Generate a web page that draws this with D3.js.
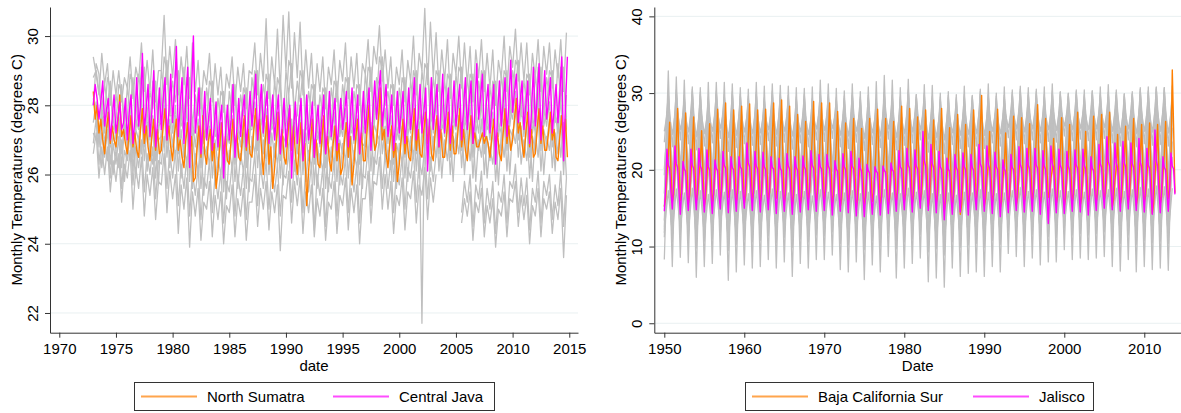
<!DOCTYPE html>
<html><head><meta charset="utf-8">
<script src="https://cdn.jsdelivr.net/npm/d3@7"></script>
<style>
body{margin:0;background:#fff}
svg{display:block}
text{font-family:"Liberation Sans",Arial,Helvetica,sans-serif;fill:#000}
</style>
</head><body>
<svg id="c" width="1181" height="413"></svg>
<script>
// ---------------- Indonesia (left panel) ----------------
const idnStartYear = 1973;
const idnXTicks = [1970, 1975, 1980, 1985, 1990, 1995, 2000, 2005, 2010, 2015];
const idnYTicks = [22, 24, 26, 28, 30];
const idnLegend = ["North Sumatra", "Central Java"];
// bimonthly readings (Jan, Mar, May, Jul, Sep, Nov) 1973-2014
const idnNorthSumatra = [
28.4,27.6,28.0,27.2,27.6,27.0, 26.6,27.3,27.8,26.9,27.4,27.0, 26.8,27.5,28.3,27.1,27.3,26.9, 26.6,27.2,27.7,26.8,27.2,26.7,
26.5,27.3,27.9,26.9,27.4,26.8, 26.4,27.1,27.6,26.7,27.3,26.6, 26.7,27.4,27.9,27.0,27.4,26.8, 26.4,27.2,27.6,26.7,27.0,26.5,
26.2,27.0,27.5,26.6,27.1,25.8, 25.9,26.8,27.4,26.5,27.7,26.6, 26.3,27.0,27.3,26.4,26.9,25.6, 26.1,26.9,27.5,26.6,27.1,26.4,
26.3,27.0,27.6,26.8,27.2,26.5, 26.4,27.1,27.7,26.7,27.3,26.6, 26.5,27.3,27.9,27.0,27.6,26.8, 26.0,26.9,27.7,26.3,26.8,25.6,
26.2,27.0,27.8,26.6,27.3,26.5, 26.3,27.1,27.9,26.7,27.4,26.6, 26.0,26.8,27.5,26.4,26.9,25.1, 26.1,26.9,27.6,26.5,27.0,26.3,
26.2,27.0,27.7,26.6,27.1,26.4, 26.1,26.9,27.4,26.4,26.9,26.0, 26.2,27.0,27.5,26.5,27.1,25.7, 26.3,27.1,27.6,26.6,27.2,26.4,
26.4,27.3,28.0,26.8,27.4,26.7, 26.9,27.6,28.5,27.0,27.3,26.6, 26.2,26.9,27.4,26.5,26.9,25.8, 26.3,27.0,27.6,26.6,27.1,26.5,
26.4,27.2,27.9,26.7,27.3,26.6, 26.5,27.3,27.8,26.9,27.4,26.6, 26.4,27.2,27.7,26.8,27.3,26.5, 26.5,27.1,27.8,26.7,27.4,26.6,
26.6,27.2,27.9,26.8,27.3,26.7, 26.4,27.1,27.7,26.9,27.2,26.8, 26.8,27.0,27.2,26.9,27.1,26.9, 26.5,27.1,27.6,26.8,27.2,26.6,
26.4,27.2,27.9,26.9,27.4,26.7, 27.0,27.6,28.2,27.2,27.5,26.9, 26.5,27.2,27.8,26.8,27.3,26.5, 26.6,27.3,27.9,26.9,27.4,26.7,
26.7,27.2,27.8,27.0,27.3,26.5, 26.4,27.1,27.7,26.9,27.6,26.5
];
const idnCentralJava = [
28.0,28.6,28.2,27.6,28.1,28.7, 27.4,27.9,28.2,27.0,27.6,28.3, 27.2,27.6,28.1,27.3,27.5,28.2, 27.0,27.8,28.3,26.9,27.6,28.8,
27.4,28.0,29.5,27.2,27.9,28.6, 27.1,27.8,29.0,26.8,27.5,28.5, 27.3,28.2,28.8,27.0,27.8,28.9, 27.5,28.4,29.7,27.1,28.0,28.8,
26.9,28.2,29.1,26.2,28.4,30.0, 27.2,27.8,28.5,26.6,27.3,28.4, 27.0,27.6,28.2,26.7,27.4,28.1, 26.8,27.5,28.0,25.9,27.2,28.0,
27.0,27.6,28.6,26.5,27.3,28.2, 27.1,27.8,28.3,26.8,27.5,28.4, 27.4,28.1,28.9,27.0,27.8,28.6, 27.2,27.9,28.4,26.9,27.6,28.3,
27.0,27.7,28.3,26.6,27.4,28.2, 26.8,27.5,28.0,25.9,27.3,28.1, 26.9,27.6,28.2,26.4,27.1,28.3, 27.0,27.5,28.1,26.5,27.4,28.0,
26.9,27.6,28.3,26.6,27.3,28.4, 27.1,27.7,28.2,26.7,27.5,28.2, 27.3,27.8,28.4,26.8,27.6,28.5, 27.0,27.6,28.3,26.6,27.4,28.4,
27.2,27.9,28.5,26.7,27.8,28.7, 27.6,28.3,29.0,27.4,28.0,28.6, 27.1,27.6,28.3,26.7,27.5,28.4, 27.2,27.8,28.4,26.9,27.6,28.5,
27.3,27.9,28.8,27.0,27.7,28.6, 27.2,27.8,28.5,26.1,27.6,28.8, 27.3,28.0,28.6,26.8,27.8,28.9, 27.2,27.9,28.5,26.9,27.7,28.7,
27.4,28.0,28.6,27.0,27.9,28.8, 27.3,28.1,28.7,26.9,27.8,29.2, 27.6,28.2,28.9,27.1,28.0,28.6, 27.2,27.9,28.6,26.3,27.7,28.7,
27.4,28.1,28.8,27.1,28.0,29.3, 27.8,28.4,28.9,27.5,28.1,28.7, 27.3,28.0,28.7,26.9,27.8,29.1, 27.4,28.2,29.2,27.0,28.0,29.0,
27.6,28.1,28.8,27.2,27.9,28.6, 27.5,28.3,29.4,26.4,28.0,29.4
];
// other provinces, quarterly readings (Jan, Apr, Jul, Oct) 1973-2014
const idnOther1 = [
29.4,28.9,28.3,29.5, 28.6,29.2,28.0,29.0, 28.3,29.0,28.1,28.8, 28.5,29.4,28.2,29.1, 28.7,29.8,28.4,29.3, 28.4,29.6,28.1,29.0,
29.0,30.6,28.6,29.7, 28.8,29.9,28.3,29.4, 28.6,29.7,28.2,29.8, 28.4,29.3,27.9,29.0, 28.6,29.5,28.1,29.2, 28.3,29.1,27.8,28.9,
28.5,29.4,28.0,29.1, 28.4,29.2,27.9,29.0, 28.9,29.8,28.3,29.5, 28.7,30.5,28.2,29.4, 28.6,30.2,28.4,30.6, 29.0,30.7,28.5,30.1,
28.8,30.4,28.3,29.6, 28.5,29.5,28.0,29.2, 28.4,29.4,27.9,29.1, 28.6,29.6,28.1,29.3, 28.7,29.8,28.2,29.4, 28.5,29.5,28.0,29.2,
28.9,29.9,28.4,29.7, 29.2,30.3,28.7,29.6, 28.5,29.4,28.0,29.1, 28.6,29.6,28.1,29.3, 28.7,30.0,28.3,29.5, 29.0,30.8,28.6,30.4,
28.8,30.1,28.4,29.6, 28.7,29.9,28.2,29.5, 28.9,30.0,28.5,29.8, 28.6,29.7,28.1,29.6, 28.8,29.9,28.4,29.5, 28.5,29.6,28.0,29.3,
28.8,30.0,28.4,29.7, 29.1,30.2,28.7,29.8, 28.7,29.8,28.3,29.5, 28.8,29.9,28.4,29.7, 28.9,29.8,28.5,29.6, 28.8,29.9,28.4,30.1
];
const idnOther2 = [
28.8,29.0,28.4,27.9, 28.6,28.0,28.7,27.5, 28.3,27.8,28.6,27.4, 28.5,27.9,28.8,27.6, 28.9,28.2,29.1,27.7, 28.4,27.9,28.7,27.5,
29.0,28.4,29.3,27.9, 28.7,28.1,29.0,27.6, 29.1,27.9,28.8,27.4, 28.3,27.7,28.5,27.2, 28.5,27.9,28.7,27.4, 28.2,27.6,28.4,27.1,
28.4,27.8,28.6,27.3, 28.3,27.7,28.5,27.2, 28.8,28.2,29.0,27.7, 28.6,28.0,28.9,27.5, 28.7,27.9,28.8,27.4, 29.0,28.3,29.2,27.8,
28.7,28.1,29.0,27.6, 28.4,27.8,28.6,27.3, 28.3,27.7,28.5,27.2, 28.5,27.9,28.7,27.4, 28.6,28.0,28.8,27.5, 28.4,27.8,28.6,27.3,
28.9,28.2,29.1,27.6, 28.8,28.6,29.4,28.0, 28.4,27.8,28.6,27.3, 28.5,27.9,28.8,27.4, 28.7,28.1,29.0,27.6, 29.0,28.3,29.2,27.8,
28.8,28.1,29.0,27.6, 28.7,28.0,28.9,27.5, 28.9,28.2,29.1,27.7, 28.8,28.0,28.9,27.5, 28.7,28.1,29.0,27.6, 28.5,27.9,28.7,27.4,
28.9,28.1,29.0,27.7, 29.0,28.5,29.3,28.0, 28.7,28.0,28.9,27.5, 28.9,28.1,29.1,27.7, 28.8,28.3,29.0,27.8, 29.2,28.1,29.1,27.6
];
const idnOther3 = [
28.2,27.6,27.0,28.0, 27.2,28.0,26.8,27.7, 27.0,27.8,26.6,27.5, 27.1,27.9,26.5,27.6, 27.3,28.2,26.8,27.9, 27.0,27.7,26.4,27.4,
27.5,28.4,26.9,28.1, 27.2,28.0,26.6,27.8, 27.0,27.9,26.4,27.6, 26.8,27.6,26.2,27.3, 27.0,27.8,26.4,27.5, 26.7,27.5,26.0,27.2,
26.9,27.7,26.3,27.4, 26.8,27.6,26.2,27.3, 27.3,28.1,26.7,27.8, 27.1,27.9,26.5,27.7, 27.0,27.8,26.4,27.6, 27.4,28.3,26.8,28.0,
27.1,28.0,26.5,27.7, 26.9,27.7,26.3,27.4, 26.8,27.6,26.2,27.3, 27.0,27.8,26.4,27.5, 27.1,27.9,26.5,27.6, 26.9,27.7,26.3,27.4,
27.3,28.2,26.7,28.0, 27.7,28.5,27.1,27.9, 26.9,27.7,26.3,27.4, 27.0,27.9,26.5,27.6, 27.2,28.1,26.6,27.8, 27.4,28.3,26.8,28.0,
27.2,28.1,26.6,27.8, 27.1,28.0,26.5,27.7, 27.3,28.2,26.7,27.9, 27.1,28.0,26.5,27.8, 27.2,28.1,26.6,27.7, 27.0,27.8,26.4,27.5,
27.2,28.1,26.7,27.9, 27.6,28.4,27.0,28.0, 27.1,28.0,26.5,27.7, 27.2,28.2,26.7,27.9, 27.4,28.1,26.8,27.8, 27.2,28.2,26.6,28.3
];
const idnOther4 = [
27.2,27.0,27.4,26.2, 26.9,26.4,27.1,26.0, 26.7,26.2,27.0,25.8, 26.8,26.4,27.2,25.9, 27.1,26.6,27.4,26.1, 26.8,26.3,27.0,25.7,
27.3,26.8,27.6,26.2, 27.0,26.5,27.3,25.9, 26.9,26.3,27.2,25.6, 26.6,26.1,26.9,25.4, 26.8,26.3,27.1,25.7, 26.5,26.0,26.8,25.3,
26.7,26.2,27.0,25.6, 26.6,26.1,26.9,25.5, 27.1,26.6,27.4,26.0, 27.0,26.4,27.2,25.8, 26.9,26.3,27.1,25.7, 27.3,26.7,27.6,26.1,
27.0,26.4,27.3,25.8, 26.7,26.2,27.0,25.6, 26.6,26.1,26.9,25.5, 26.8,26.3,27.1,25.7, 26.9,26.4,27.2,25.8, 26.7,26.2,27.0,25.6,
27.3,26.6,27.5,26.0, 27.2,27.0,27.8,26.4, 26.7,26.2,27.0,25.6, 26.9,26.3,27.2,25.8, 27.1,26.5,27.4,25.9, 27.3,26.7,27.6,26.1,
27.1,26.5,27.4,25.9, 27.0,26.4,27.3,25.8, 27.2,26.6,27.5,26.0, 27.1,26.4,27.3,25.8, 27.0,26.5,27.4,25.9, 26.8,26.3,27.1,25.7,
27.2,26.5,27.4,26.0, 27.3,26.9,27.7,26.3, 27.0,26.4,27.3,25.8, 27.2,26.5,27.5,26.0, 27.1,26.7,27.4,26.1, 27.6,26.5,27.5,25.9
];
const idnOther5 = [
26.6,27.2,25.9,26.8, 26.0,26.8,25.5,26.4, 25.8,26.6,25.2,26.3, 25.9,26.7,25.0,26.2, 25.6,26.5,24.8,26.0, 25.4,26.2,24.7,25.8,
25.7,26.6,24.9,26.1, 25.3,26.0,24.3,25.7, 25.0,25.9,23.9,25.5, 24.8,25.6,24.1,25.2, 25.0,25.8,24.2,25.4, 24.7,25.5,24.0,25.1,
24.9,25.7,24.2,25.3, 24.8,25.6,24.1,25.2, 25.2,26.0,24.5,25.6, 25.0,25.8,24.4,25.5, 24.9,25.7,23.8,25.4, 25.3,26.1,24.6,25.8,
25.1,25.9,24.3,25.5, 24.9,25.7,24.2,25.3, 24.8,25.6,24.1,25.2, 25.0,25.8,24.3,25.4, 25.1,25.9,24.4,25.6, 24.9,25.7,24.0,25.3,
25.3,26.1,24.6,25.8, 25.7,26.5,25.0,26.0, 25.0,25.8,24.3,25.4, 25.1,25.9,24.4,25.5, 25.3,26.1,24.6,25.7, 25.4,26.2,24.7,25.9,
25.2,26.0,null,null, null,null,null,null, null,null,24.6,25.3, 24.8,25.5,24.1,25.2, 24.9,25.6,24.2,25.1, 24.6,25.3,23.9,25.0,
24.8,25.5,24.2,25.3, 25.2,25.8,24.5,25.4, 24.7,25.4,24.0,25.1, 24.8,25.6,24.2,25.3, 25.0,25.5,24.3,25.2, 24.7,25.6,23.6,25.4
];
const idnOther6 = [
26.9,27.6,26.3,27.2, 26.5,27.3,25.9,26.9, 26.3,27.1,25.6,26.7, 26.4,27.2,25.7,26.8, 26.2,27.0,25.5,26.6, 26.0,26.8,25.3,26.4,
26.3,27.1,25.6,26.7, 25.9,26.7,25.1,26.3, 25.6,26.5,24.8,26.1, 25.4,26.2,24.7,25.9, 25.6,26.4,24.9,26.0, 25.3,26.1,24.6,25.8,
25.5,26.3,24.8,26.0, 25.4,26.2,24.7,25.9, 25.8,26.6,25.1,26.3, 25.6,26.4,25.0,26.1, 25.5,26.3,24.8,26.0, 25.9,26.7,25.2,26.4,
25.7,26.5,24.9,26.2, 25.5,26.3,24.4,26.0, 25.4,26.2,24.5,25.9, 25.6,26.4,24.8,26.1, 25.7,26.5,24.9,26.2, 25.5,26.3,24.6,26.0,
25.9,26.8,25.1,26.5, 26.3,27.1,25.6,26.6, 25.6,26.4,24.9,26.1, 25.7,26.5,25.0,26.2, 25.9,26.7,25.2,26.4, 26.0,26.8,25.3,26.5,
25.8,26.6,null,null, null,null,null,null, null,null,24.9,25.8, 25.2,26.0,24.5,25.7, 25.3,26.1,24.6,25.6, 25.0,25.8,24.3,25.5,
25.2,26.0,24.6,25.8, 25.6,26.3,24.9,25.9, 25.1,25.9,24.4,25.6, 25.2,26.1,24.6,25.8, 25.4,26.0,24.7,25.7, 25.1,26.1,24.5,25.9
];
const idnOther7 = [
27.5,28.1,26.8,27.7, 26.9,27.6,26.3,27.2, 26.7,27.5,26.2,27.4, 26.8,27.7,26.1,27.3, 27.0,27.9,26.4,27.5, 26.6,27.4,25.9,27.0,
27.1,28.0,26.5,27.6, 26.8,27.7,26.1,27.3, 26.5,27.5,25.8,27.1, 26.3,27.2,25.6,26.8, 26.6,27.4,25.9,27.0, 26.2,27.1,25.5,26.7,
26.4,27.3,25.8,26.9, 26.3,27.2,25.6,26.8, 26.8,27.7,26.2,27.4, 26.6,27.5,26.0,27.2, 26.5,27.4,25.9,27.1, 26.9,27.9,26.3,27.5,
26.6,27.6,26.0,27.2, 26.4,27.3,25.7,26.9, 26.3,27.2,25.6,26.8, 26.5,27.4,25.8,27.0, 26.6,27.5,25.9,27.1, 26.4,27.3,25.7,26.9,
26.8,27.8,26.1,27.5, 27.2,28.0,26.6,27.4, 26.4,27.3,25.8,26.9, 26.5,27.4,25.9,27.1, 26.7,27.6,26.1,27.3, 21.7,27.8,26.3,27.5,
26.7,27.6,26.1,27.2, 26.6,27.5,26.0,27.1, 26.8,27.7,26.2,27.4, 26.6,27.5,25.9,27.2, 26.7,27.6,26.0,27.1, 26.4,27.3,25.8,26.9,
26.7,27.6,26.1,27.3, 27.1,27.9,26.5,27.4, 26.6,27.5,25.9,27.1, 26.7,27.7,26.1,27.3, 26.9,27.6,26.2,27.2, 26.6,27.7,26.0,27.7
];
const idnOther8 = [
28.0,29.2,28.9,27.6, 27.7,28.8,28.5,27.3, 27.5,28.6,28.4,27.2, 27.6,28.9,28.6,27.3, 27.9,29.1,28.8,27.5, 27.5,28.7,28.4,27.2,
28.0,29.4,29.0,27.7, 27.7,29.0,28.7,27.4, 27.6,28.8,28.6,27.1, 27.3,28.5,28.3,26.9, 27.5,28.7,28.5,27.1, 27.2,28.4,28.2,26.8,
27.4,28.6,28.4,27.0, 27.3,28.5,28.3,26.9, 27.8,29.0,28.8,27.4, 27.6,28.9,28.6,27.3, 27.5,28.8,28.5,27.2, 27.9,29.3,29.0,27.6,
27.7,29.0,28.7,27.3, 27.4,28.6,28.4,27.0, 27.3,28.5,28.3,26.9, 27.5,28.7,28.5,27.1, 27.6,28.8,28.6,27.2, 27.4,28.6,28.4,27.0,
27.8,29.1,28.9,27.3, 28.2,29.4,29.0,27.7, 27.4,28.6,28.4,27.0, 27.5,28.8,28.5,27.1, 27.7,29.0,28.7,27.3, 27.9,29.2,29.0,27.5,
27.7,29.0,28.8,27.3, 27.6,28.9,28.7,27.2, 27.8,29.1,28.9,27.4, 27.6,28.9,28.7,27.2, 27.7,29.0,28.8,27.3, 27.5,28.7,28.5,27.1,
27.7,29.0,28.8,27.4, 28.1,29.3,29.1,27.7, 27.6,28.9,28.7,27.2, 27.7,29.1,28.9,27.4, 27.9,29.0,28.8,27.5, 27.7,29.1,28.9,27.3
];

// ---------------- Mexico (right panel) ----------------
const mexStartYear = 1950;
const mexXTicks = [1950, 1960, 1970, 1980, 1990, 2000, 2010];
const mexYTicks = [0, 10, 20, 30, 40];
const mexLegend = ["Baja California Sur", "Jalisco"];
// bimonthly readings (Jan, Mar, May, Jul, Sep, Nov) 1950-2013
const mexBajaCaliforniaSur = [
15.2,16.3,19.4,21.9,26.2,20.0, 15.8,16.8,19.9,23.7,28.0,20.6, 16.0,16.9,19.7,23.1,27.4,20.4, 15.6,16.6,19.5,22.6,26.9,20.1,
15.9,16.8,19.2,20.9,25.1,19.7, 15.3,16.3,19.1,21.7,26.0,19.6, 15.7,16.8,19.8,23.6,27.9,20.4, 16.2,17.2,20.2,24.4,28.7,20.8,
16.4,17.3,20.0,23.5,27.8,20.6, 15.9,17.0,19.9,24.0,28.3,20.5, 15.6,16.7,20.0,24.3,28.6,20.7, 16.1,17.0,19.8,23.5,27.8,20.3,
15.8,16.8,19.7,23.6,27.9,20.2, 16.0,17.1,20.3,24.4,28.7,20.9, 16.3,17.3,20.4,24.8,29.1,21.1, 15.7,16.8,20.1,24.0,28.3,20.6,
15.4,16.5,19.6,22.9,27.2,20.0, 15.5,16.5,19.4,22.0,26.3,19.8, 16.1,17.1,20.3,24.6,28.9,20.8, 15.9,17.0,20.2,24.4,28.7,20.7,
16.2,17.2,20.2,24.4,28.7,20.6, 15.6,16.6,19.8,23.3,27.6,20.2, 15.2,16.2,19.1,21.8,26.1,19.6, 15.8,16.8,19.4,22.4,26.7,19.9,
15.1,16.1,18.9,21.1,25.4,19.4, 15.4,16.4,19.3,22.4,26.7,19.8, 15.9,16.9,19.9,23.6,27.9,20.4, 15.5,16.5,19.5,22.4,26.7,19.9,
15.3,16.3,19.2,22.0,26.3,19.7, 16.0,17.0,20.1,24.0,28.3,20.6, 15.8,16.8,20.0,23.7,28.0,20.5, 15.6,16.6,19.6,22.6,26.9,20.1,
15.9,16.9,19.9,23.5,27.8,20.4, 15.2,16.3,19.4,22.2,26.5,19.9, 15.7,16.7,20.0,23.7,28.0,20.5, 14.6,15.8,18.9,21.2,25.5,19.4,
15.5,16.5,19.6,22.9,27.2,20.1, 14.2,15.5,18.8,21.6,25.9,19.5, 15.6,16.7,19.9,23.5,27.8,20.4, 16.2,17.3,20.6,25.4,29.7,21.2,
15.3,16.2,19.0,20.7,25.0,19.3, 15.7,16.7,19.8,23.6,27.9,20.3, 15.0,15.9,18.7,20.5,24.8,19.2, 15.6,16.6,19.5,22.7,27.0,20.0,
15.4,16.4,19.4,22.5,26.8,19.9, 15.8,16.7,19.3,21.7,26.0,19.8, 16.0,17.1,20.3,24.2,28.5,20.8, 15.5,16.5,19.5,22.4,26.7,20.0,
16.4,17.1,18.9,20.0,24.1,19.4, 15.6,16.5,19.4,22.5,26.8,19.9, 15.3,16.3,19.1,21.6,25.9,19.6, 15.9,16.8,19.8,23.2,27.5,20.2,
15.4,16.3,18.9,20.7,25.0,19.4, 15.8,16.7,19.6,22.7,27.0,20.0, 15.9,16.8,19.7,22.9,27.2,20.1, 16.1,17.0,19.9,23.2,27.5,20.3,
15.2,16.1,18.7,20.3,24.6,19.1, 15.5,16.4,19.1,21.4,25.7,19.6, 15.7,16.7,19.5,22.4,26.7,19.9, 15.4,16.4,19.2,21.6,25.9,19.7,
15.8,16.6,19.3,21.8,26.1,19.8, 14.3,15.6,19.0,21.6,25.9,19.5, 15.6,16.5,19.4,22.0,26.3,19.9, 16.3,17.3,21.0,33.0,25.5,17.0
];
const mexJalisco = [
14.6,17.6,22.7,20.6,20.2,17.1, 14.9,18.0,23.1,20.8,20.3,17.2, 14.2,17.1,21.1,20.1,19.8,16.8, 14.7,17.7,22.7,20.6,20.2,17.0,
14.8,17.8,22.8,20.5,20.1,17.1, 14.5,17.5,22.6,20.4,20.0,16.9, 14.3,17.2,21.3,20.2,19.9,16.8, 14.9,17.9,22.4,20.6,20.2,17.2,
14.4,17.3,21.7,20.3,20.0,16.9, 14.6,17.5,21.7,20.4,20.1,17.0, 15.0,18.2,23.5,20.9,20.4,17.3, 14.7,17.6,22.4,20.5,20.1,17.0,
14.5,17.5,22.3,20.4,20.0,16.9, 14.8,17.6,21.7,20.3,20.1,17.0, 14.3,17.2,21.5,20.2,19.9,16.8, 14.6,17.6,22.1,20.5,20.1,17.0,
14.2,17.2,21.7,20.3,19.9,16.7, 14.5,17.4,21.8,20.4,20.0,16.9, 14.8,17.8,22.5,20.6,20.2,17.1, 14.6,17.5,22.0,20.4,20.1,17.0,
14.7,17.6,22.0,20.5,20.1,17.0, 14.1,17.0,21.2,20.1,19.8,16.7, 14.6,17.5,22.1,20.4,20.0,17.0, 14.4,17.4,22.4,20.5,20.1,16.9,
14.0,17.0,21.5,20.2,19.8,16.6, 13.9,16.8,20.7,19.9,19.6,16.5, 14.2,16.9,20.4,19.8,19.6,16.6, 14.1,16.8,20.5,19.9,19.7,16.6,
14.3,17.0,20.9,20.0,19.8,16.7, 14.6,17.6,22.5,20.4,20.1,17.0, 14.8,17.8,22.8,20.6,20.2,17.1, 14.5,17.6,22.6,20.5,20.1,17.0,
15.0,18.4,25.0,21.2,20.5,17.3, 14.7,17.9,23.3,20.8,20.3,17.1, 14.4,17.5,22.4,20.4,20.0,16.9, 13.5,16.8,21.5,20.1,19.8,16.5,
14.2,17.3,22.0,20.3,19.9,16.8, 14.5,17.5,22.2,20.4,20.0,16.9, 14.1,17.2,22.0,20.3,19.9,16.7, 14.8,18.0,23.3,20.8,20.3,17.2,
14.6,17.8,23.1,20.7,20.2,17.1, 14.3,17.4,22.3,20.4,20.0,16.9, 13.9,17.0,21.3,20.1,19.8,16.6, 14.4,17.4,22.0,20.3,20.0,16.9,
14.7,17.8,23.0,20.7,20.2,17.1, 14.5,17.6,22.8,20.6,20.1,17.0, 14.6,17.7,22.8,20.6,20.2,17.0, 14.2,17.4,22.5,20.5,20.0,16.9,
13.0,17.0,23.1,20.8,20.3,17.0, 14.4,17.6,22.7,20.6,20.1,17.0, 14.3,17.4,22.4,20.5,20.0,16.9, 14.6,17.7,22.6,20.6,20.2,17.1,
14.5,17.6,22.7,20.6,20.1,17.0, 14.1,17.1,21.7,20.2,19.9,16.8, 14.7,17.9,23.3,20.8,20.3,17.2, 15.0,18.3,24.3,21.1,20.5,17.4,
14.8,18.0,23.5,20.9,20.3,17.2, 14.6,17.9,23.7,20.9,20.4,17.2, 14.9,18.0,23.5,20.8,20.3,17.3, 14.7,18.1,24.1,21.0,20.4,17.3,
14.5,17.7,22.8,20.6,20.2,17.1, 14.2,17.9,25.2,21.2,20.5,17.3, 14.4,17.3,21.7,20.3,20.0,16.9, 14.6,17.5,22.2,20.5,20.1,16.8
];
// other states, half-yearly readings (Jan, Jul) 1950-2013
const mexSonora = [
15.2,32.9,14.6,32.1,15.8,31.7,14.9,30.8,15.5,30.7,14.3,31.4,15.7,31.4,16.1,31.4,15.0,31.2,14.8,30.7,
15.4,30.5,15.9,31.4,14.7,30.9,15.3,31.2,15.6,31.0,14.5,30.9,15.1,30.7,15.8,30.6,14.9,30.8,15.2,31.7,
15.6,31.2,14.4,30.6,15.9,30.3,15.3,31.2,14.8,30.2,15.7,30.8,15.0,31.5,14.6,32.3,15.5,31.7,15.2,30.7,
15.8,31.8,15.1,29.8,14.7,31.1,15.6,31.0,15.0,30.0,14.2,30.2,15.4,29.8,15.9,30.9,15.3,29.6,14.8,30.5,
15.7,31.2,15.5,30.0,14.9,30.8,16.0,30.4,15.2,30.9,15.8,30.7,15.4,30.5,16.1,30.8,15.6,31.2,15.3,30.2,
16.2,30.0,15.7,30.4,15.9,30.4,15.5,30.3,16.0,30.8,15.8,31.1,16.3,29.6,15.4,29.9,15.9,29.9,16.1,30.7,
15.6,30.8,15.2,30.7,16.0,30.7,15.8,31.0
];
const mexChihuahua = [
8.3,25.1,7.4,25.6,8.6,24.8,7.9,25.9,6.0,25.3,7.4,24.6,7.8,25.8,8.9,24.9,5.6,25.4,6.7,25.0,
7.6,24.7,7.2,25.2,7.4,24.5,8.3,25.6,7.2,25.1,8.0,24.8,6.1,24.6,7.8,25.0,7.2,24.4,8.3,25.3,
8.3,24.9,8.9,24.5,7.0,24.7,6.7,25.1,8.0,24.6,5.7,24.9,7.6,24.3,6.7,25.2,8.7,24.8,5.9,24.6,
7.2,25.5,7.8,24.9,8.5,25.1,5.4,24.7,5.9,24.6,4.7,24.8,7.2,24.5,6.1,24.9,6.5,24.8,6.7,25.3,
6.1,24.9,7.4,24.6,6.7,24.7,9.1,25.2,8.7,25.6,7.4,25.1,8.5,25.3,7.6,24.9,8.0,25.4,8.0,25.2,
9.6,25.0,8.3,25.3,8.5,24.9,8.3,25.4,8.5,25.1,8.7,25.2,7.4,25.5,6.8,25.0,8.3,25.3,6.7,25.6,
7.4,25.4,7.0,25.9,7.2,25.8,6.9,25.5
];
const mexDurango = [
11.2,23.4,10.6,23.8,11.5,23.1,10.9,23.9,9.8,23.5,10.7,22.9,11.0,23.7,11.8,23.2,9.5,23.6,10.3,23.3,
10.9,23.0,10.6,23.4,10.8,22.8,11.4,23.7,10.5,23.2,11.2,23.0,9.9,22.9,11.0,23.3,10.6,22.7,11.5,23.5,
11.4,23.1,11.9,22.8,10.4,23.0,10.2,23.4,11.1,22.9,9.6,23.1,10.8,22.6,10.1,23.4,11.7,23.0,9.7,22.9,
10.6,23.6,11.0,23.1,11.6,23.3,9.3,22.9,9.7,22.8,8.9,23.0,10.6,22.7,9.9,23.1,10.2,23.0,10.4,23.5,
9.9,23.1,10.8,22.9,10.3,23.0,12.0,23.4,11.7,23.8,10.8,23.3,11.6,23.5,10.9,23.1,11.3,23.6,11.2,23.4,
12.4,23.2,11.5,23.5,11.7,23.1,11.5,23.6,11.7,23.3,11.9,23.4,10.8,23.7,10.4,23.2,11.5,23.5,10.3,23.8,
10.8,23.6,10.5,24.1,10.7,24.0,10.4,23.7
];
const mexCoahuila = [
12.5,28.6,11.4,28.9,12.8,28.2,12.0,29.1,10.6,28.7,11.5,28.0,12.1,29.0,13.2,28.3,10.3,28.8,11.2,28.4,
12.0,28.1,11.6,28.6,11.9,27.9,12.6,28.8,11.5,28.5,12.3,28.2,10.8,28.0,12.2,28.4,11.4,27.8,12.7,28.7,
12.5,28.3,13.1,27.9,11.2,28.1,11.0,28.5,12.3,28.0,10.4,28.2,11.9,27.7,11.1,28.6,12.9,28.2,10.5,28.0,
11.6,28.9,12.1,28.3,12.8,28.5,10.0,28.1,10.4,28.0,9.6,28.2,11.7,27.9,10.8,28.3,11.1,28.2,11.3,28.7,
10.7,28.3,11.9,28.1,11.2,28.2,13.2,28.6,12.8,29.0,11.8,28.5,12.7,28.7,12.0,28.3,12.4,28.8,12.3,28.6,
13.6,28.4,12.5,28.7,12.8,28.3,12.5,28.8,12.7,28.5,12.9,28.6,11.8,28.9,11.2,28.4,12.5,28.7,11.1,29.0,
11.8,28.8,11.4,29.3,11.7,29.2,11.3,28.9
];
const mexTamaulipas = [
16.9,29.4,16.0,29.7,17.2,29.0,16.5,29.8,15.3,29.5,16.1,28.8,16.6,29.6,17.5,29.1,15.0,29.5,15.8,29.2,
16.5,28.9,16.2,29.4,16.4,28.7,17.0,29.6,16.1,29.3,16.8,29.0,15.5,28.8,16.7,29.2,16.0,28.6,17.1,29.5,
16.9,29.1,17.4,28.7,15.8,28.9,15.6,29.3,16.7,28.8,15.1,29.0,16.4,28.5,15.8,29.4,17.3,29.0,15.2,28.8,
16.2,29.7,16.6,29.1,17.2,29.3,14.8,28.9,15.2,28.8,14.5,29.0,16.3,28.7,15.5,29.1,15.8,29.0,16.0,29.5,
15.4,29.1,16.5,28.9,15.9,29.0,17.5,29.4,17.1,29.8,16.4,29.3,17.2,29.5,16.6,29.1,16.9,29.6,16.8,29.4,
17.9,29.2,17.0,29.5,17.3,29.1,17.0,29.6,17.2,29.3,17.4,29.4,16.5,29.7,16.0,29.2,17.1,29.5,15.9,29.8,
16.5,29.6,16.2,30.1,16.4,30.0,16.1,29.7
];
const mexYucatan = [
23.6,29.8,23.0,30.1,23.9,29.4,23.4,30.2,22.6,29.8,23.1,29.2,23.5,30.0,24.1,29.5,22.4,29.9,22.9,29.6,
23.4,29.3,23.2,29.8,23.3,29.1,23.8,30.0,23.1,29.7,23.6,29.4,22.7,29.2,23.5,29.6,23.0,29.0,23.9,29.9,
23.7,29.5,24.1,29.1,23.0,29.3,22.8,29.7,23.6,29.2,22.5,29.4,23.3,28.9,22.9,29.8,24.0,29.4,22.6,29.2,
23.2,30.1,23.5,29.5,23.9,29.7,22.3,29.3,22.6,29.2,22.1,29.4,23.3,29.1,22.8,29.5,23.0,29.4,23.1,29.9,
22.8,29.5,23.5,29.3,23.1,29.4,24.2,29.8,23.9,30.2,23.4,29.7,23.9,29.9,23.5,29.5,23.7,30.0,23.6,29.8,
24.4,29.6,23.8,29.9,24.0,29.5,23.8,30.0,23.9,29.7,24.1,29.8,23.5,30.1,23.1,29.6,23.9,29.9,23.0,30.2,
23.4,30.0,23.2,30.5,23.3,30.4,23.1,30.1
];
const mexGuerrero = [
25.0,28.2,24.6,28.4,25.2,27.9,24.9,28.5,24.3,28.2,24.7,27.7,25.0,28.4,25.4,28.0,24.2,28.3,24.5,28.1,
24.9,27.9,24.7,28.2,24.8,27.6,25.2,28.4,24.6,28.1,25.0,27.9,24.4,27.8,24.9,28.0,24.6,27.6,25.3,28.3,
25.1,28.0,25.4,27.7,24.5,27.9,24.4,28.2,25.0,27.8,24.1,28.0,24.8,27.6,24.4,28.3,25.3,27.9,24.2,27.8,
24.7,28.5,24.9,28.1,25.2,28.2,24.0,27.9,24.2,27.8,23.9,28.0,24.8,27.7,24.5,28.1,24.6,28.0,24.7,28.4,
24.5,28.1,25.0,27.9,24.7,28.0,25.5,28.3,25.3,28.6,24.9,28.2,25.3,28.4,25.0,28.1,25.2,28.5,25.1,28.3,
25.7,28.2,25.2,28.4,25.4,28.1,25.2,28.5,25.3,28.3,25.5,28.4,25.0,28.6,24.8,28.2,25.3,28.4,24.7,28.7,
25.0,28.5,24.9,28.9,25.0,28.8,24.8,28.6
];
const mexEstadoMexico = [
12.2,17.3,11.6,17.5,12.5,17.0,11.9,17.6,11.0,17.3,11.5,16.8,12.0,17.4,12.8,17.1,10.8,17.4,11.3,17.2,
11.9,16.9,11.7,17.3,11.8,16.7,12.4,17.5,11.5,17.2,12.2,17.0,11.1,16.8,12.0,17.2,11.4,16.6,12.5,17.4,
12.3,17.1,12.7,16.8,11.4,17.0,11.2,17.3,12.0,16.9,10.9,17.1,11.8,16.6,11.3,17.4,12.6,17.0,10.8,16.9,
11.6,17.6,12.0,17.1,12.5,17.3,10.6,16.9,10.9,16.8,10.4,17.0,11.7,16.7,11.1,17.1,11.4,17.0,11.5,17.4,
11.0,17.1,11.9,16.9,11.4,17.0,12.7,17.3,12.4,17.7,11.8,17.2,12.4,17.4,12.0,17.1,12.2,17.5,12.2,17.3,
13.0,17.2,12.4,17.4,12.6,17.1,12.4,17.5,12.5,17.3,12.7,17.4,12.0,17.6,11.6,17.2,12.4,17.4,11.5,17.7,
11.9,17.5,11.6,17.9,11.8,17.8,11.5,17.6
];
const mexSinaloa = [
19.3,30.0,18.6,30.4,19.6,29.7,19.0,30.5,18.1,30.1,18.8,29.5,19.2,30.3,19.9,29.8,17.9,30.2,18.5,29.9,
19.1,29.6,18.8,30.1,19.0,29.4,19.5,30.3,18.7,30.0,19.3,29.7,18.2,29.5,19.2,29.9,18.6,29.3,19.6,30.2,
19.4,29.8,19.8,29.4,18.5,29.6,18.3,30.0,19.2,29.5,17.9,29.7,18.9,29.2,18.4,30.1,19.7,29.7,18.0,29.5,
18.7,30.4,19.1,29.8,19.6,30.0,17.6,29.6,18.0,29.5,17.4,29.7,18.8,29.4,18.2,29.8,18.5,29.7,18.6,30.2,
18.1,29.8,19.0,29.6,18.5,29.7,19.9,30.1,19.6,30.5,18.9,30.0,19.6,30.2,19.1,29.8,19.4,30.3,19.3,30.1,
20.2,29.9,19.5,30.2,19.7,29.8,19.5,30.3,19.6,30.0,19.8,30.1,19.0,30.4,18.6,29.9,19.5,30.2,18.5,30.5,
19.0,30.3,18.7,30.8,18.9,30.7,18.6,30.4
];
const mexZacatecas = [
11.8,21.5,11.1,21.8,12.1,21.2,11.5,21.9,10.4,21.5,11.2,20.9,11.6,21.7,12.4,21.2,10.1,21.6,10.9,21.3,
11.5,21.0,11.2,21.4,11.4,20.8,12.0,21.7,11.1,21.2,11.8,21.0,10.5,20.9,11.6,21.3,11.0,20.7,12.1,21.5,
12.0,21.1,12.5,20.8,11.0,21.0,10.8,21.4,11.7,20.9,10.2,21.1,11.4,20.6,10.7,21.4,12.3,21.0,10.3,20.9,
11.2,21.6,11.6,21.1,12.2,21.3,9.9,20.9,10.3,20.8,9.5,21.0,11.2,20.7,10.5,21.1,10.8,21.0,11.0,21.5,
10.5,21.1,11.4,20.9,10.9,21.0,12.6,21.4,12.3,21.8,11.4,21.3,12.2,21.5,11.5,21.1,11.9,21.6,11.8,21.4,
13.0,21.2,12.1,21.5,12.3,21.1,12.1,21.6,12.3,21.3,12.5,21.4,11.4,21.7,11.0,21.2,12.1,21.5,10.9,21.8,
11.4,21.6,11.1,22.1,11.3,22.0,11.0,21.7
];
const mexBajaCalifornia = [
13.4,26.7,12.7,27.1,13.7,26.4,13.1,27.2,12.1,26.8,12.8,26.2,13.3,27.0,14.0,26.5,11.8,26.9,12.5,26.6,
13.1,26.3,12.8,26.8,13.0,26.1,13.6,27.0,12.7,26.7,13.4,26.4,12.2,26.2,13.3,26.6,12.6,26.0,13.7,26.9,
13.5,26.5,13.9,26.1,12.6,26.3,12.4,26.7,13.3,26.2,11.9,26.4,13.0,25.9,12.5,26.8,13.8,26.4,12.0,26.2,
12.8,27.1,13.2,26.5,13.7,26.7,11.6,26.3,12.0,26.2,11.3,26.4,12.9,26.1,12.3,26.5,12.6,26.4,12.7,26.9,
12.2,26.5,13.1,26.3,12.6,26.4,14.0,26.8,13.7,27.2,13.0,26.7,13.7,26.9,13.2,26.5,13.5,27.0,13.4,26.8,
14.3,26.6,13.6,26.9,13.8,26.5,13.6,27.0,13.7,26.7,13.9,26.8,13.1,27.1,12.7,26.6,13.6,26.9,12.6,27.2,
13.1,27.0,12.8,27.5,13.0,27.4,12.7,27.1
];
const mexVeracruz = [
20.1,27.0,19.4,27.3,20.4,26.7,19.8,27.4,18.9,27.1,19.6,26.5,20.0,27.2,20.7,26.8,18.7,27.2,19.3,26.9,
19.9,26.6,19.6,27.1,19.8,26.4,20.3,27.3,19.5,27.0,20.1,26.7,19.0,26.5,20.0,26.9,19.4,26.3,20.4,27.2,
20.2,26.8,20.6,26.4,19.3,26.6,19.1,27.0,20.0,26.5,18.7,26.7,19.7,26.2,19.2,27.1,20.5,26.7,18.8,26.5,
19.5,27.4,19.9,26.8,20.4,27.0,18.4,26.6,18.8,26.5,18.2,26.7,19.6,26.4,19.0,26.8,19.3,26.7,19.4,27.2,
18.9,26.8,19.8,26.6,19.3,26.7,20.7,27.1,20.4,27.5,19.7,27.0,20.4,27.2,19.9,26.8,20.2,27.3,20.1,27.1,
21.0,26.9,20.3,27.2,20.5,26.8,20.3,27.3,20.4,27.0,20.6,27.1,19.8,27.4,19.4,26.9,20.3,27.2,19.3,27.5,
19.8,27.3,19.5,27.8,19.7,27.7,19.4,27.4
];

// ---------------- drawing ----------------
const COL_ORANGE = "#ff7f00", COL_PINK = "#ff00ff", COL_GREY = "#bfbfbf";
const svg = d3.select("#c");

function toPoints(values, startYear, perYear) {
  return values.map((v, i) => [startYear + i / perYear, v]);
}

function drawPanel(cfg) {
  const x = d3.scaleLinear().domain(cfg.xDomain).range([cfg.left, cfg.right]);
  const y = d3.scaleLinear().domain(cfg.yDomain).range([cfg.bottom, cfg.top]);
  const g = svg.append("g");

  g.append("g").selectAll("line").data(cfg.yTicks).join("line")
    .attr("x1", cfg.left).attr("x2", cfg.right)
    .attr("y1", d => y(d)).attr("y2", d => y(d))
    .attr("stroke", "#e9f0f1").attr("stroke-width", 1);

  svg.append("clipPath").attr("id", cfg.id + "-clip").append("rect")
    .attr("x", cfg.left).attr("y", cfg.top)
    .attr("width", cfg.right - cfg.left).attr("height", cfg.bottom - cfg.top);
  const plot = g.append("g").attr("clip-path", `url(#${cfg.id}-clip)`);
  const line = d3.line().defined(d => d[1] != null).x(d => x(d[0])).y(d => y(d[1]));

  cfg.grey.forEach(s => {
    plot.append("path").attr("d", line(toPoints(s, cfg.start, cfg.greyPerYear)))
      .attr("fill", "none").attr("stroke", COL_GREY).attr("stroke-width", 1.3)
      .attr("stroke-linejoin", "round");
  });
  cfg.series.forEach(s => {
    plot.append("path").attr("d", line(toPoints(s.values, cfg.start, cfg.seriesPerYear)))
      .attr("fill", "none").attr("stroke", s.color).attr("stroke-width", 1.4)
      .attr("stroke-linejoin", "round");
  });

  // x axis
  const xa = g.append("g").attr("transform", `translate(0,${cfg.bottom})`)
    .call(d3.axisBottom(x).tickValues(cfg.xTicks).tickFormat(d3.format("d")).tickSize(5).tickSizeOuter(0));
  xa.select(".domain").attr("stroke", "#333");
  xa.selectAll(".tick line").attr("stroke", "#333");
  xa.selectAll(".tick text").attr("y", 21.5).attr("dy", 0)
    .style("font-size", "15px").style("font-family", '"Liberation Sans",Arial,sans-serif').attr("fill", "#000");

  // y axis
  const ya = g.append("g").attr("transform", `translate(${cfg.left},0)`)
    .call(d3.axisLeft(y).tickValues(cfg.yTicks).tickSize(5).tickSizeOuter(0));
  ya.select(".domain").attr("stroke", "#333");
  ya.selectAll(".tick line").attr("stroke", "#333");
  ya.selectAll(".tick text").attr("transform", "rotate(-90)").attr("x", 0).attr("y", -12).attr("dy", 0)
    .style("text-anchor", "middle")
    .style("font-size", "15px").style("font-family", '"Liberation Sans",Arial,sans-serif').attr("fill", "#000");

  // titles
  g.append("text").attr("transform", `translate(${cfg.left - 28},${(cfg.top + cfg.bottom) / 2}) rotate(-90)`)
    .attr("text-anchor", "middle").style("font-size", "15px").text(cfg.yTitle);
  g.append("text").attr("x", (cfg.left + cfg.right) / 2).attr("y", 371)
    .attr("text-anchor", "middle").style("font-size", "15px").text(cfg.xTitle);

  // legend
  const L = cfg.legend;
  g.append("rect").attr("x", L.x).attr("y", 382.5).attr("width", L.w).attr("height", 28)
    .attr("fill", "#fff").attr("stroke", "#333").attr("stroke-width", 1);
  cfg.series.forEach((s, i) => {
    const lx = L.items[i];
    g.append("line").attr("x1", lx).attr("x2", lx + 56).attr("y1", 396.5).attr("y2", 396.5)
      .attr("stroke", s.color).attr("stroke-width", 2).attr("stroke-opacity", 0.7);
    g.append("text").attr("x", lx + 66).attr("y", 402).style("font-size", "15px").text(s.name);
  });
}

drawPanel({
  id: "idn", left: 50, right: 578, top: 7, bottom: 332.7,
  xDomain: [1969.18, 2015.77], yDomain: [21.43, 30.84],
  xTicks: idnXTicks, yTicks: idnYTicks, start: idnStartYear,
  greyPerYear: 4, seriesPerYear: 6,
  grey: [idnOther1, idnOther2, idnOther3, idnOther4, idnOther5, idnOther6, idnOther7, idnOther8],
  series: [
    { name: idnLegend[0], values: idnNorthSumatra, color: COL_ORANGE },
    { name: idnLegend[1], values: idnCentralJava, color: COL_PINK }
  ],
  yTitle: "Monthly Temperatures (degrees C)", xTitle: "date",
  legend: { x: 134.5, w: 360, items: [141, 333] }
});

drawPanel({
  id: "mex", left: 654.3, right: 1181, top: 7, bottom: 332.7,
  xDomain: [1948.75, 2014.59], yDomain: [-1.23, 41.22],
  xTicks: mexXTicks, yTicks: mexYTicks, start: mexStartYear,
  greyPerYear: 2, seriesPerYear: 6,
  grey: [mexSonora, mexChihuahua, mexDurango, mexCoahuila, mexTamaulipas, mexYucatan, mexGuerrero,
         mexEstadoMexico, mexSinaloa, mexZacatecas, mexBajaCalifornia, mexVeracruz],
  series: [
    { name: mexLegend[0], values: mexBajaCaliforniaSur, color: COL_ORANGE },
    { name: mexLegend[1], values: mexJalisco, color: COL_PINK }
  ],
  yTitle: "Monthly Temperatures (degrees C)", xTitle: "Date",
  legend: { x: 745.5, w: 348, items: [752, 973] }
});
</script>
</body></html>
